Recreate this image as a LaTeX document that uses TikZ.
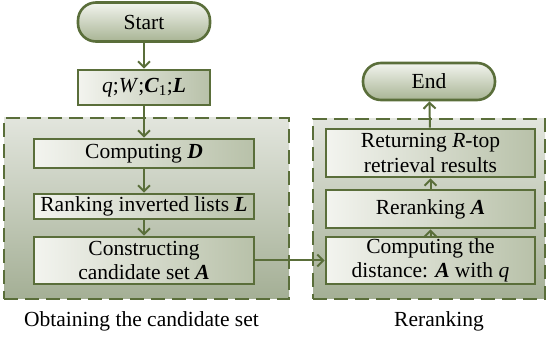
\documentclass[tikz,border=0pt]{standalone}
\usepackage{fontspec}
\setmainfont{Liberation Serif}
\usetikzlibrary{arrows.meta}
\definecolor{olive}{RGB}{90,110,58}
\definecolor{paneltop}{RGB}{226,229,221}
\definecolor{panelbot}{RGB}{164,175,149}
\definecolor{boxleft}{RGB}{243,244,239}
\definecolor{boxright}{RGB}{184,193,169}
\definecolor{pilltop}{RGB}{242,244,238}
\definecolor{pillbot}{RGB}{168,180,148}
\tikzset{
  panel/.style={draw=olive, line width=2pt, dash pattern=on 14pt off 7pt,
    top color=paneltop, bottom color=panelbot, inner sep=0pt},
  procbox/.style={draw=olive, line width=2.6pt, left color=boxleft, right color=boxright,
    inner sep=0pt, align=center, font=\fontsize{21.5pt}{24.5pt}\selectfont},
  pill/.style={draw=olive, line width=2.6pt, top color=pilltop, bottom color=pillbot,
    rounded corners=18pt, inner sep=0pt, minimum width=132pt,
    font=\fontsize{21.5pt}{24.5pt}\selectfont},
  caption/.style={font=\fontsize{21.5pt}{24.5pt}\selectfont, inner sep=0pt},
  flow/.style={draw=olive, line width=2pt, -{Straight Barb[length=6pt,width=12pt,line width=2pt]}}
}
\newcommand{\bi}[1]{\textbf{\textit{#1}}}
\begin{document}
\begin{tikzpicture}[x=1pt,y=1pt]
\useasboundingbox (0,0) rectangle (550,338);
% panels
\node[panel, minimum width=285pt, minimum height=181pt] (lp) at (146.5,129.5) {};
\node[panel, minimum width=232pt, minimum height=180pt] (rp) at (429,129) {};
% left column
\node[pill, minimum height=39pt] (start) at (144,316) {Start};
\node[procbox, minimum width=132pt, minimum height=35pt] (q) at (144,250.5)
  {\textit{q};\textit{W};\bi{C}\textsubscript{1};\bi{L}};
\node[procbox, minimum width=220pt, minimum height=29pt] (d) at (144,184.5) {Computing \bi{D}};
\node[procbox, minimum width=220pt, minimum height=25pt] (rank) at (144,131.5) {Ranking inverted lists \bi{L}};
\node[procbox, minimum width=220pt, minimum height=47pt] (cons) at (144,77.5) {Constructing\\candidate set \bi{A}};
% right column
\node[pill, minimum height=37pt] (end) at (429,256.5) {End};
\node[procbox, minimum width=209pt, minimum height=48pt] (ret) at (430.5,185) {Returning \textit{R}-top\\retrieval results};
\node[procbox, minimum width=209pt, minimum height=38pt] (rer) at (430.5,129) {Reranking \bi{A}};
\node[procbox, minimum width=209pt, minimum height=47pt] (dist) at (430.5,77.5) {Computing the\\distance: \bi{A} with \textit{q}};
% captions
\node[caption] (c1) at (141.5,17) {Obtaining the candidate set};
\node[caption] (c2) at (439,17) {Reranking};
% arrows
\draw[flow] (start) -- (q);
\draw[flow] (q) -- (d);
\draw[flow] (d) -- (rank);
\draw[flow] (rank) -- (cons);
\draw[flow] (cons) -- (dist);
\draw[flow] (dist) -- (rer);
\draw[flow] (rer) -- (ret);
\draw[flow] (ret) -- (end);
\end{tikzpicture}
\end{document}
